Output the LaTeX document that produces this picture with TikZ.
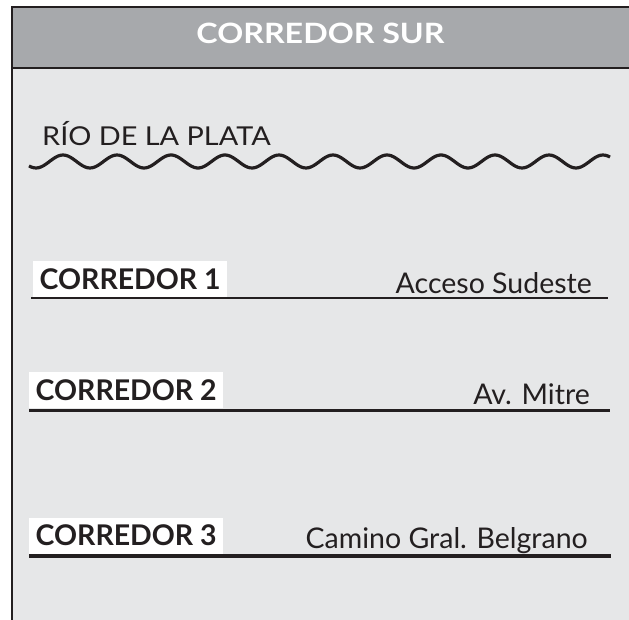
\documentclass[tikz,border=0pt]{standalone}
\usepackage{fontspec}
\setmainfont{Lato}
\newfontfamily\headfont{Lato}[FakeStretch=1.15]
\newfontfamily\riverfont{Lato}[FakeStretch=1.11]
\definecolor{headgray}{HTML}{A7A9AC}
\definecolor{bodygray}{HTML}{E6E7E8}
\definecolor{ink}{HTML}{231F20}
\tikzset{
  corrbox/.style={fill=white, text=ink, inner sep=0pt, minimum width=194pt, minimum height=36pt, anchor=south west, font=\bfseries\fontsize{28.5}{28.5}\selectfont},
  street/.style={text=ink, inner sep=0pt, anchor=base east, font=\fontsize{28.5}{28.5}\selectfont},
  road/.style={draw=ink, line width=#1},
}
\begin{document}
\begin{tikzpicture}[x=1pt,y=-1pt]
\useasboundingbox (0,0) rectangle (629,620);
\fill[white](0,0)rectangle(629,620);
\fill[bodygray](11,68)rectangle(629,620);
\fill[headgray](11,7)rectangle(629,68);
\draw[ink, line width=2pt](629,7)--(12,7)--(12,620);
\draw[ink, line width=2pt](11,68)--(629,68);
\node[text=white, inner sep=0pt, anchor=base, font=\headfont\bfseries\fontsize{28}{28}\selectfont] (title) at (320.5,43.3) {CORREDOR SUR};
\node[text=ink, inner sep=0pt, anchor=base west, font=\riverfont\fontsize{26}{26}\selectfont] (rio) at (42,145.7) {RÍO DE LA PLATA};
\draw[ink, line width=3.2pt] plot[domain=29:610, samples=240, smooth] (\x,{161.5+6.5*cos((\x-36)*6.6667)});
\coordinate (c1w) at (31,298);
\coordinate (c1e) at (608,298);
\coordinate (c2w) at (29,410);
\coordinate (c2e) at (610,410);
\coordinate (c3w) at (29,556);
\coordinate (c3e) at (611,556);
\draw[road=2pt](c1w)--(c1e);
\draw[road=3pt](c2w)--(c2e);
\draw[road=4.5pt](c3w)--(c3e);
\node[corrbox] (corr1) at (33,297) {CORREDOR 1};
\node[corrbox] (corr2) at (29,408.5) {CORREDOR 2};
\node[corrbox] (corr3) at (29,553.7) {CORREDOR 3};
\node[street] (acceso) at (592,294) {Acceso Sudeste};
\node[street] (mitre) at (590,404) {Av. Mitre};
\node[street] (belgrano) at (588,548) {Camino Gral. Belgrano};
\end{tikzpicture}
\end{document}
